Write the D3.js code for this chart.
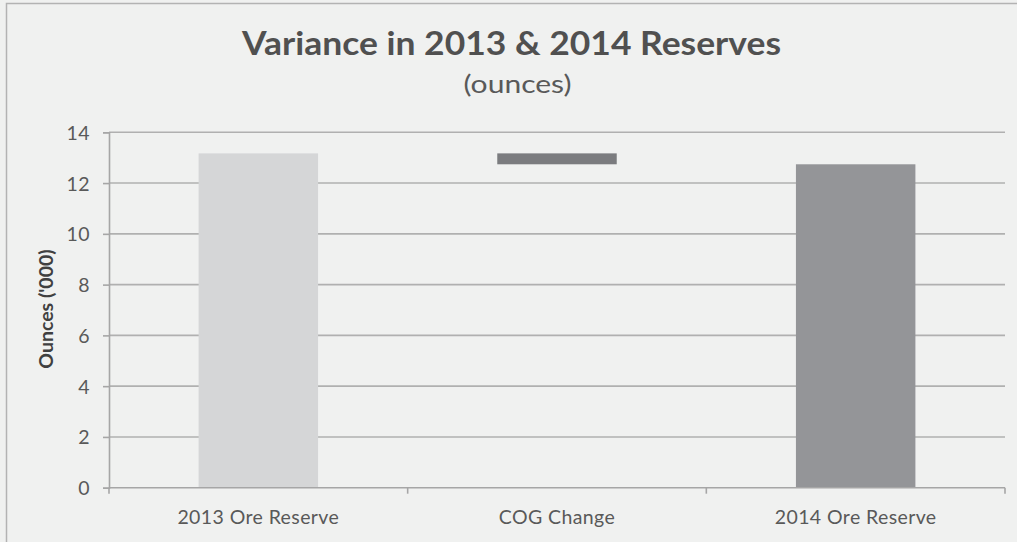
<!DOCTYPE html>
<html>
<head>
<meta charset="utf-8">
<script src="https://cdn.jsdelivr.net/npm/d3@7"></script>
<style>
  html, body { margin: 0; padding: 0; background: #f0f1f0; }
  svg { display: block; }
  text { font-family: Lato, "Open Sans", sans-serif; }
</style>
</head>
<body>
<svg id="chart" width="1017" height="542"></svg>
<script>
// Reserve reconciliation, ounces ('000)
const categories = ["2013 Ore Reserve", "COG Change", "2014 Ore Reserve"];
const values = [13.17, -0.43, 12.74];
const kinds = ["total", "change", "total"];
const barColors = ["#d5d6d7", "#7b7c7f", "#949598"];
const yTicks = [0, 2, 4, 6, 8, 10, 12, 14];

const svg = d3.select("#chart");
const W = 1017, H = 542;
const margin = { left: 109, right: 12, top: 132.3, bottom: 54.3 };

// chart frame (top and left edges)
svg.append("path")
  .attr("d", `M6.5,${H} V3.5 H${W}`)
  .attr("fill", "none")
  .attr("stroke", "#b3b3b3")
  .attr("stroke-width", 1.5);

const x = d3.scaleBand()
  .domain(categories)
  .range([margin.left, W - margin.right])
  .paddingInner(0.6)
  .paddingOuter(0.3);

const y = d3.scaleLinear()
  .domain([0, 14])
  .range([H - margin.bottom, margin.top]);

// horizontal gridlines
svg.append("g")
  .selectAll("line")
  .data(yTicks.filter(d => d > 0))
  .join("line")
  .attr("x1", margin.left)
  .attr("x2", W - margin.right)
  .attr("y1", d => y(d))
  .attr("y2", d => y(d))
  .attr("stroke", "#b0b0b0")
  .attr("stroke-width", 1.6);

// waterfall segments
let running = 0;
const segs = values.map((v, i) => {
  let lo, hi;
  if (kinds[i] === "total") { lo = 0; hi = v; running = v; }
  else { const next = running + v; lo = Math.min(running, next); hi = Math.max(running, next); running = next; }
  return { cat: categories[i], lo, hi, color: barColors[i] };
});

svg.append("g")
  .selectAll("rect")
  .data(segs)
  .join("rect")
  .attr("x", d => x(d.cat))
  .attr("width", x.bandwidth())
  .attr("y", d => y(d.hi))
  .attr("height", d => y(d.lo) - y(d.hi))
  .attr("fill", d => d.color);

// y axis
const yAxis = svg.append("g")
  .attr("transform", `translate(${margin.left},0)`)
  .call(d3.axisLeft(y).tickValues(yTicks).tickSize(6).tickPadding(13).tickFormat(d3.format("d")));
yAxis.select(".domain").attr("stroke", "#a6a6a6").attr("stroke-width", 1.6);
yAxis.selectAll(".tick line").attr("stroke", "#a6a6a6").attr("stroke-width", 1.6);
yAxis.selectAll(".tick text")
  .attr("fill", "#595959")
  .style("font-size", "19.5px")
  .style("letter-spacing", "0.5px")
  .attr("dy", "0.36em");

// x axis: ticks at the band boundaries
const xAxisG = svg.append("g").attr("transform", `translate(0,${y(0)})`);
xAxisG.append("line")
  .attr("x1", margin.left).attr("x2", W - margin.right)
  .attr("stroke", "#a6a6a6").attr("stroke-width", 1.6);
const bounds = d3.range(categories.length + 1).map(i => margin.left + i * (W - margin.right - margin.left) / categories.length);
xAxisG.selectAll(".bt")
  .data(bounds)
  .join("line")
  .attr("class", "bt")
  .attr("x1", d => d).attr("x2", d => d)
  .attr("y1", 0).attr("y2", 6)
  .attr("stroke", "#a6a6a6").attr("stroke-width", 1.6);
xAxisG.selectAll(".cl")
  .data(categories)
  .join("text")
  .attr("class", "cl")
  .attr("x", d => x(d) + x.bandwidth() / 2)
  .attr("y", 36)
  .attr("text-anchor", "middle")
  .attr("fill", "#595959")
  .style("font-size", "19.5px")
  .style("letter-spacing", "0.4px")
  .text(d => d);

// y axis title
svg.append("text")
  .attr("transform", "translate(53,309) rotate(-90)")
  .attr("text-anchor", "middle")
  .attr("fill", "#404040")
  .style("font-size", "19.5px")
  .style("font-weight", "bold")
  .text("Ounces ('000)");

// titles
svg.append("text")
  .attr("x", 511.5).attr("y", 55)
  .attr("text-anchor", "middle")
  .attr("fill", "#505050")
  .style("font-size", "33px")
  .style("font-weight", "bold")
  .attr("textLength", 539)
  .attr("lengthAdjust", "spacingAndGlyphs")
  .text("Variance in 2013 & 2014 Reserves");

svg.append("text")
  .attr("x", 517.5).attr("y", 93)
  .attr("text-anchor", "middle")
  .attr("fill", "#595959")
  .style("font-size", "25px")
  .attr("textLength", 108)
  .attr("lengthAdjust", "spacingAndGlyphs")
  .text("(ounces)");
</script>
</body>
</html>
